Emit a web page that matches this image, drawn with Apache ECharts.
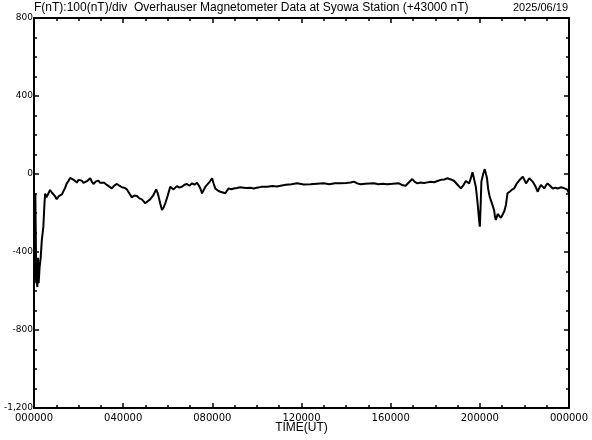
<!DOCTYPE html>
<html>
<head>
<meta charset="utf-8">
<script src="https://cdn.jsdelivr.net/npm/echarts@6/dist/echarts.min.js"></script>
<style>html,body{margin:0;padding:0;background:#fff;}#c{width:592px;height:440px;}</style>
</head>
<body>
<div id="c"></div>
<script>
// time in hours UT
var hours = [0.00,0.03,0.06,0.09,0.12,0.15,0.18,0.21,0.25,0.30,0.35,0.42,0.47,0.50,0.56,0.64,0.72,0.80,0.87,0.95,
1.02,1.10,1.17,1.25,1.32,1.40,1.47,1.55,1.62,1.69,1.78,1.85,1.92,2.00,2.07,2.14,2.22,2.29,2.40,2.52,2.60,2.67,2.78,2.89,2.96,
3.04,3.15,3.27,3.38,3.49,3.60,3.72,3.83,3.94,4.05,4.17,4.28,4.39,4.50,4.62,4.73,4.84,4.92,4.99,5.10,5.21,5.35,5.48,5.54,5.59,5.66,5.74,5.82,5.89,
6.00,6.11,6.19,6.26,6.34,6.41,6.52,6.64,6.75,6.86,6.97,7.09,7.20,7.31,7.40,7.46,7.54,7.62,7.69,7.76,7.88,7.99,
8.06,8.13,8.25,8.36,8.47,8.58,8.66,8.73,8.85,8.96,9.10,9.25,9.41,9.55,9.70,9.86,10.00,10.20,10.46,10.70,10.90,
11.06,11.30,11.55,11.80,12.10,12.40,12.70,13.00,13.25,13.50,13.75,14.00,14.20,14.35,14.50,14.65,14.85,15.05,15.25,15.45,15.65,15.85,
16.10,16.37,16.45,16.55,16.67,16.80,16.97,17.08,17.20,17.35,17.50,17.65,17.80,17.95,18.10,18.25,18.40,18.55,18.70,18.85,
19.00,19.15,19.25,19.37,19.45,19.52,19.60,19.67,19.75,19.82,19.90,19.97,20.00,20.04,20.07,20.15,20.22,20.27,20.32,20.37,20.43,20.49,
20.57,20.64,20.68,20.72,20.80,20.87,20.95,21.02,21.10,21.17,21.24,21.35,21.45,21.54,21.65,21.78,21.86,21.93,22.00,22.07,22.15,22.22,
22.30,22.37,22.48,22.60,22.67,22.74,22.82,22.89,22.96,23.04,23.15,23.27,23.38,23.49,23.65,23.80,23.92,24.00];
// F(nT) minus 43000
var fValues = [-90,-560,-100,-420,-540,-580,-430,-560,-480,-430,-340,-270,-150,-100,-120,-124,-82,-95,-91,-115,
-130,-115,-108,-105,-99,-70,-48,-35,-20,-10,-30,-25,-44,-30,-40,-34,-45,-51,-35,-22,-40,-51,-38,-34,-45,
-39,-45,-56,-65,-74,-60,-51,-60,-68,-70,-79,-100,-120,-110,-113,-125,-130,-140,-150,-140,-130,-110,-79,-95,-116,-150,-185,-170,-150,
-110,-65,-75,-79,-70,-62,-70,-65,-55,-51,-60,-48,-55,-45,-60,-74,-99,-80,-65,-56,-40,-22,
-50,-74,-85,-91,-95,-99,-85,-74,-78,-74,-72,-68,-70,-72,-70,-74,-70,-66,-65,-62,-64,
-60,-55,-52,-48,-54,-53,-50,-48,-52,-47,-48,-46,-44,-39,-48,-53,-50,-49,-48,-52,-50,-53,
-50,-48,-53,-58,-60,-45,-26,-40,-48,-44,-46,-43,-40,-42,-36,-30,-28,-22,-28,-36,
-55,-74,-60,-36,-45,-48,-20,9,-30,-65,-150,-240,-270,-150,-39,0,25,32,-20,-74,-110,-133,
-160,-185,-220,-236,-205,-202,-225,-219,-190,-159,-99,-90,-80,-74,-50,-31,-40,-14,-30,-48,-35,-22,
-30,-39,-60,-91,-70,-56,-65,-74,-60,-48,-60,-74,-70,-74,-68,-74,-80,-99];
var xTickLabels = ['000000','040000','080000','120000','160000','200000','000000'];
var titleText = 'F(nT):100(nT)/div  Overhauser Magnetometer Data at Syowa Station (+43000 nT)';
var dateText = '2025/06/19';

var data = hours.map(function(h,i){return [h,fValues[i]];});
var chart = echarts.init(document.getElementById('c'));
var lbl = {color:'#000', fontFamily:'DejaVu Sans', fontSize:9};
var axLine = {show:true, onZero:false, lineStyle:{color:'#000', width:2}};
var tick = {show:true, inside:true, length:5, lineStyle:{color:'#000', width:1.5}};
var minor = {show:true, splitNumber:4, length:3, lineStyle:{color:'#000', width:1.5}};
var xBase = {type:'value', min:0, max:24, interval:4, axisLine:axLine, axisTick:tick, minorTick:minor, splitLine:{show:false}, minorSplitLine:{show:false}};
var yBase = {type:'value', min:-1200, max:800, interval:400, axisLine:axLine, axisTick:tick, minorTick:minor, splitLine:{show:false}, minorSplitLine:{show:false}};
chart.setOption({
  animation:false,
  backgroundColor:'#fff',
  title:[
    {text:titleText, left:34, top:2, padding:0, textStyle:{fontFamily:'Liberation Sans', fontSize:12, fontWeight:'normal', color:'#000'}},
    {text:dateText, right:24, top:2, padding:0, textStyle:{fontFamily:'Liberation Sans', fontSize:11, fontWeight:'normal', color:'#000'}}
  ],
  grid:{left:34, right:23, top:18, bottom:32, containLabel:false, outerBoundsMode:'none'},
  xAxis:[
    Object.assign({}, xBase, {position:'bottom', name:'TIME(UT)', nameLocation:'middle', nameGap:14, nameMoveOverlap:false,
      nameTextStyle:{fontFamily:'Liberation Sans', fontSize:12, color:'#000', verticalAlign:'top'},
      axisLabel:Object.assign({}, lbl, {fontSize:10, margin:5, formatter:function(v){return xTickLabels[Math.round(v/4)];}})}),
    Object.assign({}, xBase, {position:'top', axisLabel:{show:false}})
  ],
  yAxis:[
    Object.assign({}, yBase, {position:'left', axisLabel:Object.assign({}, lbl, {margin:1})}),
    Object.assign({}, yBase, {position:'right', axisLabel:{show:false}})
  ],
  series:[{type:'line', data:data, showSymbol:false, symbol:'none', lineStyle:{color:'#000', width:2}, xAxisIndex:0, yAxisIndex:0}]
});
</script>
</body>
</html>
